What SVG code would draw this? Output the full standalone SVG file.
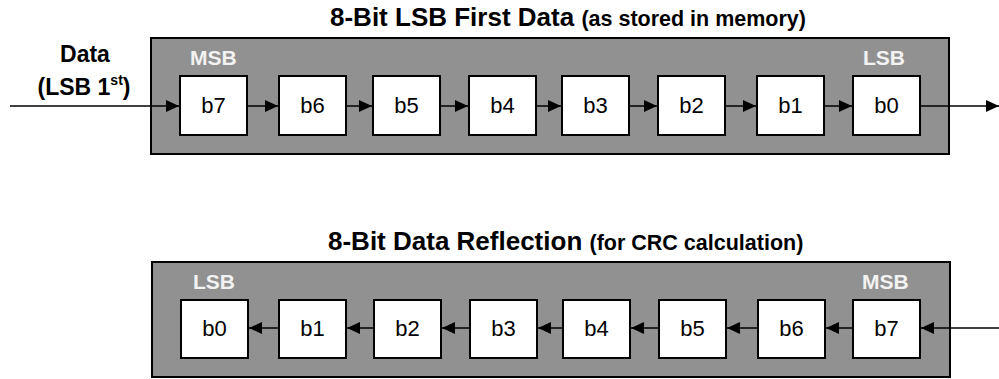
<svg xmlns="http://www.w3.org/2000/svg" width="999" height="379" viewBox="0 0 999 379">
<style>
.panel{fill:#919191;stroke:#000;stroke-width:2}
.bit{fill:#fff;stroke:#000;stroke-width:2}
.bt{font-family:"Liberation Sans",Arial,sans-serif;font-size:22px;text-anchor:middle;fill:#000}
.tag{font-family:"Liberation Sans",Arial,sans-serif;font-size:21px;font-weight:bold;fill:#f2f2f2}
.title{font-family:"Liberation Sans",Arial,sans-serif;font-size:26px;font-weight:bold;fill:#000}
.sub{font-size:21.5px}
.lbl{font-family:"Liberation Sans",Arial,sans-serif;font-size:23px;font-weight:bold;fill:#000;text-anchor:middle}
.ln{stroke:#000;stroke-width:1.5;fill:none;marker-end:url(#ah)}
</style>
<defs>
<marker id="ah" viewBox="0 0 13 12" refX="13" refY="6" markerWidth="13" markerHeight="12" markerUnits="userSpaceOnUse" orient="auto">
<path d="M0,0 L13,6 L0,12 Z" fill="#000"/>
</marker>
</defs>
<g id="top-panel">
<rect class="panel" x="151" y="38" width="798" height="116"/>
<text class="title" x="330" y="26">8-Bit LSB First Data <tspan class="sub">(as stored in memory)</tspan></text>
<text class="tag" x="190" y="65">MSB</text>
<text class="tag" x="863" y="65">LSB</text>
</g>
<g id="data-label">
<text class="lbl" x="85" y="62">Data</text>
<text class="lbl" x="84" y="95">(LSB 1<tspan font-size="14" dy="-10">st</tspan><tspan dy="10">)</tspan></text>
</g>
<g id="t-b7"><rect class="bit" x="180" y="76" width="67" height="59"/><text class="bt" x="213.5" y="113">b7</text></g>
<g id="t-b6"><rect class="bit" x="279" y="76" width="67" height="59"/><text class="bt" x="312.5" y="113">b6</text></g>
<g id="t-b5"><rect class="bit" x="373" y="76" width="67" height="59"/><text class="bt" x="406.5" y="113">b5</text></g>
<g id="t-b4"><rect class="bit" x="469" y="76" width="67" height="59"/><text class="bt" x="502.5" y="113">b4</text></g>
<g id="t-b3"><rect class="bit" x="562" y="76" width="67" height="59"/><text class="bt" x="595.5" y="113">b3</text></g>
<g id="t-b2"><rect class="bit" x="658" y="76" width="67" height="59"/><text class="bt" x="691.5" y="113">b2</text></g>
<g id="t-b1"><rect class="bit" x="757" y="76" width="67" height="59"/><text class="bt" x="790.5" y="113">b1</text></g>
<g id="t-b0"><rect class="bit" x="853" y="76" width="67" height="59"/><text class="bt" x="886.5" y="113">b0</text></g>
<g id="bottom-panel">
<rect class="panel" x="152" y="262" width="798" height="115"/>
<text class="title" x="328" y="250">8-Bit Data Reflection <tspan class="sub">(for CRC calculation)</tspan></text>
<text class="tag" x="193" y="289">LSB</text>
<text class="tag" x="862" y="289">MSB</text>
</g>
<g id="r-b0"><rect class="bit" x="181" y="300" width="67" height="58"/><text class="bt" x="214.5" y="336">b0</text></g>
<g id="r-b1"><rect class="bit" x="279" y="300" width="67" height="58"/><text class="bt" x="312.5" y="336">b1</text></g>
<g id="r-b2"><rect class="bit" x="374" y="300" width="67" height="58"/><text class="bt" x="407.5" y="336">b2</text></g>
<g id="r-b3"><rect class="bit" x="470" y="300" width="67" height="58"/><text class="bt" x="503.5" y="336">b3</text></g>
<g id="r-b4"><rect class="bit" x="563" y="300" width="67" height="58"/><text class="bt" x="596.5" y="336">b4</text></g>
<g id="r-b5"><rect class="bit" x="659" y="300" width="67" height="58"/><text class="bt" x="692.5" y="336">b5</text></g>
<g id="r-b6"><rect class="bit" x="758" y="300" width="67" height="58"/><text class="bt" x="791.5" y="336">b6</text></g>
<g id="r-b7"><rect class="bit" x="853" y="300" width="67" height="58"/><text class="bt" x="886.5" y="336">b7</text></g>
<g id="connectors">
<line class="ln" x1="10" y1="106" x2="179" y2="106"/>
<line class="ln" x1="247" y1="106" x2="278" y2="106"/>
<line class="ln" x1="346" y1="106" x2="372" y2="106"/>
<line class="ln" x1="440" y1="106" x2="468" y2="106"/>
<line class="ln" x1="536" y1="106" x2="561" y2="106"/>
<line class="ln" x1="629" y1="106" x2="657" y2="106"/>
<line class="ln" x1="725" y1="106" x2="756" y2="106"/>
<line class="ln" x1="824" y1="106" x2="852" y2="106"/>
<line class="ln" x1="920" y1="106" x2="999" y2="106"/>
<line class="ln" x1="999" y1="328" x2="921" y2="328"/>
<line class="ln" x1="853" y1="328" x2="826" y2="328"/>
<line class="ln" x1="758" y1="328" x2="727" y2="328"/>
<line class="ln" x1="659" y1="328" x2="631" y2="328"/>
<line class="ln" x1="563" y1="328" x2="538" y2="328"/>
<line class="ln" x1="470" y1="328" x2="442" y2="328"/>
<line class="ln" x1="374" y1="328" x2="347" y2="328"/>
<line class="ln" x1="279" y1="328" x2="249" y2="328"/>
</g>
</svg>
